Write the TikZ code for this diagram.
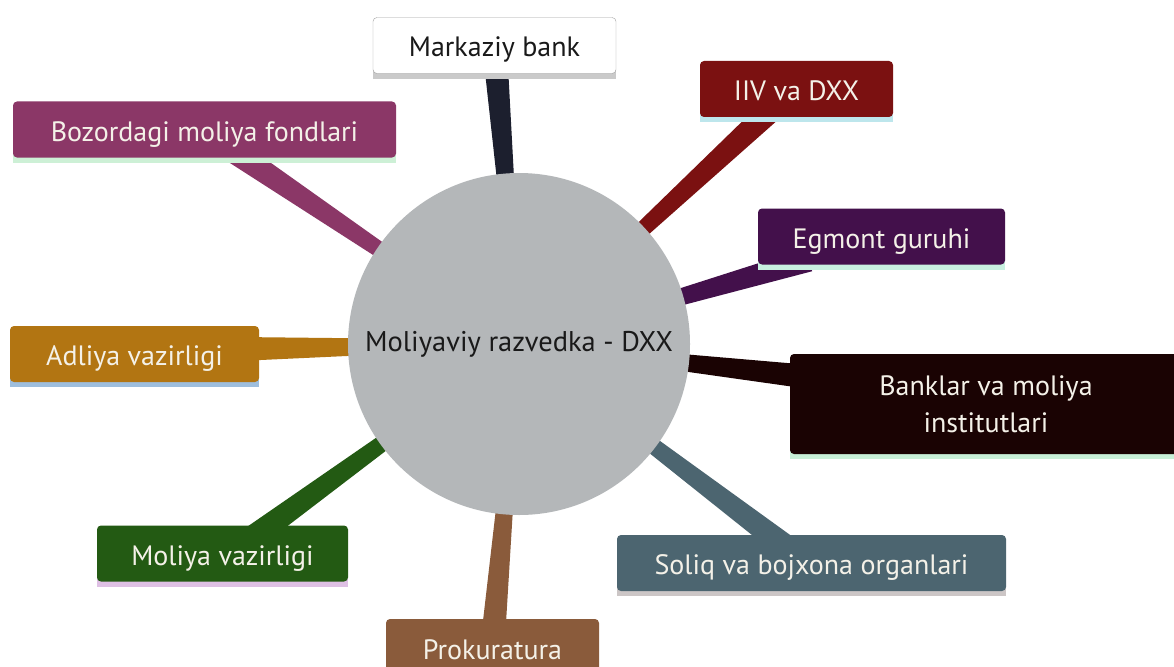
\documentclass[tikz,border=0pt]{standalone}
\usepackage{fontspec}
\setmainfont{PT Sans}
\usetikzlibrary{calc,backgrounds}
\definecolor{hubgray}{HTML}{B4B7B9}
\definecolor{boxtext}{HTML}{F4F1E8}
\definecolor{mbborder}{HTML}{A0A0A0}
\definecolor{mbline}{HTML}{1C1F2E}
\definecolor{mbstrip}{HTML}{CACACA}
\definecolor{iivred}{HTML}{7B1111}
\definecolor{iivstrip}{HTML}{BDE6EC}
\definecolor{bozpurple}{HTML}{8B3767}
\definecolor{bozstrip}{HTML}{CDF0D6}
\definecolor{egmviolet}{HTML}{43104B}
\definecolor{egmstrip}{HTML}{C8F0E0}
\definecolor{adlorange}{HTML}{B27512}
\definecolor{adlstrip}{HTML}{9EBEDD}
\definecolor{banblack}{HTML}{1A0303}
\definecolor{banstrip}{HTML}{C8F0D8}
\definecolor{mvgreen}{HTML}{235A13}
\definecolor{mvstrip}{HTML}{DEC0E4}
\definecolor{solslate}{HTML}{4C6570}
\definecolor{solstrip}{HTML}{CCC6C6}
\definecolor{probrown}{HTML}{8A5B3B}
% tapered branch from the hub to an end point
\newcommand{\spoke}[2]{\fill[#1] ($(dxx.center)!4pt!90:(#2)$) -- ($(#2)!12pt!-90:(dxx.center)$) -- ($(#2)!12pt!90:(dxx.center)$) -- ($(dxx.center)!4pt!-90:(#2)$) -- cycle;}
\begin{document}
\begin{tikzpicture}[x=1pt,y=-1pt,line join=round]
	\tikzset{org/.style={rounded corners=4pt,minimum height=56pt,inner sep=0pt,text height=23pt,text depth=0pt,text=boxtext,font=\fontsize{28}{37}\selectfont},
		hub/.style={circle,fill=hubgray,minimum size=342pt,inner sep=0pt,text=black!90,font=\fontsize{28.5}{32}\selectfont}}
	\useasboundingbox (0,0) rectangle (1174,666);
	\node[hub] (dxx) at (519,344) {Moliyaviy razvedka - DXX};
	\node[org,fill=white,draw=mbborder,text=black!90,minimum width=243pt] (mb) at (494.5,45.5) {Markaziy bank};
	\node[org,fill=iivred,minimum width=193pt] (iiv) at (796.5,89) {IIV va DXX};
	\node[org,fill=bozpurple,minimum width=383pt] (boz) at (204.5,129.5) {Bozordagi moliya fondlari};
	\node[org,fill=egmviolet,minimum width=247pt] (egm) at (881.5,236.5) {Egmont guruhi};
	\node[org,fill=adlorange,minimum width=249pt] (adl) at (134.5,354) {Adliya vazirligi};
	\node[org,fill=banblack,minimum width=392pt,minimum height=100pt,text height={},text depth={},align=center] (ban) at (986,404) {Banklar va moliya\\institutlari};
	\node[org,fill=mvgreen,minimum width=251pt] (mv) at (222.5,553.5) {Moliya vazirligi};
	\node[org,fill=solslate,minimum width=389pt] (sol) at (811.5,563) {Soliq va bojxona organlari};
	\node[org,fill=probrown,minimum width=213pt,minimum height=57pt] (pro) at (492.5,647.5) {Prokuratura};
	\begin{scope}[on background layer]
		\fill[white] (0,0) rectangle (1174,666);
		\coordinate (mbend) at ($(mb.south)+(1,-16)$);
		\coordinate (iivend) at ($(iiv.south)+(-23.5,-9)$);
		\coordinate (bozend) at ($(boz.south)+(28.5,-7)$);
		\coordinate (egmend) at ($(egm.south west)+(51,-5)$);
		\coordinate (adlend) at ($(adl.east)+(-20,-5)$);
		\coordinate (banend) at ($(ban.west)+(20,-27)$);
		\coordinate (mvend) at ($(mv.north)+(30.5,12)$);
		\coordinate (solend) at ($(sol.north)+(-25.5,12)$);
		\coordinate (proend) at ($(pro.north)+(0.5,20)$);
		\spoke{mbline}{mbend}
		\spoke{iivred}{iivend}
		\spoke{bozpurple}{bozend}
		\spoke{egmviolet}{egmend}
		\spoke{adlorange}{adlend}
		\spoke{banblack}{banend}
		\spoke{mvgreen}{mvend}
		\spoke{solslate}{solend}
		\spoke{probrown}{proend}
		% light strips under the boxes
		\fill[mbstrip] ($(mb.south west)+(0,-4)$) rectangle ($(mb.south east)+(0,5)$);
		\fill[iivstrip] ($(iiv.south west)+(0,-4)$) rectangle ($(iiv.south east)+(0,5)$);
		\fill[bozstrip] ($(boz.south west)+(0,-4)$) rectangle ($(boz.south east)+(0,5)$);
		\fill[egmstrip] ($(egm.south west)+(0,-4)$) rectangle ($(egm.south east)+(0,5)$);
		\fill[adlstrip] ($(adl.south west)+(0,-4)$) rectangle ($(adl.south east)+(0,5)$);
		\fill[banstrip] ($(ban.south west)+(0,-4)$) rectangle ($(ban.south east)+(0,5)$);
		\fill[mvstrip] ($(mv.south west)+(0,-4)$) rectangle ($(mv.south east)+(0,5)$);
		\fill[solstrip] ($(sol.south west)+(0,-4)$) rectangle ($(sol.south east)+(0,5)$);
	\end{scope}
\end{tikzpicture}
\end{document}
